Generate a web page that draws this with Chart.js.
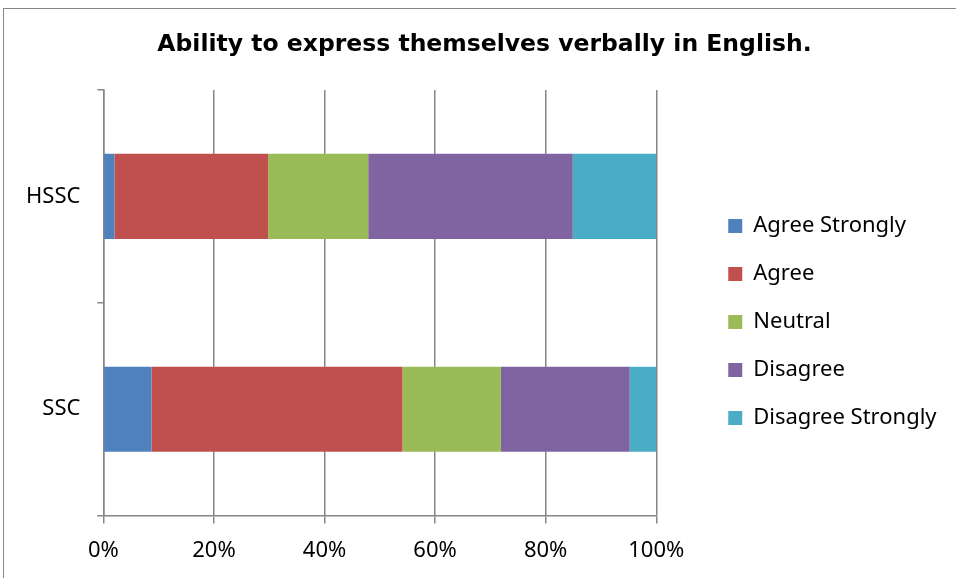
<!DOCTYPE html>
<html>
<head>
<meta charset="utf-8">
<script src="https://cdn.jsdelivr.net/npm/chart.js@4/dist/chart.umd.min.js"></script>
<style>
  html, body { margin: 0; padding: 0; background: #fff; }
  #frame { position: absolute; left: 3px; top: 8px; width: 1000px; height: 620px; border: 1px solid #868686; }
  #wrap { position: absolute; left: 0; top: 0; width: 956px; height: 578px; }
</style>
</head>
<body>
<div id="frame"></div>
<div id="wrap"><canvas id="chart"></canvas></div>
<script>
const title = 'Ability to express themselves verbally in English.';
const levels = ['HSSC', 'SSC'];
const seriesNames = ['Agree Strongly', 'Agree', 'Neutral', 'Disagree', 'Disagree Strongly'];
const agreeStrongly = [2, 8.7];
const agree = [27.8, 45.4];
const neutral = [18.1, 17.8];
const disagree = [37, 23.3];
const disagreeStrongly = [15.1, 4.8];
const xTicks = [0, 20, 40, 60, 80, 100];

const colors = ['#4F81BD', '#C0504D', '#9BBB59', '#8064A2', '#4BACC6'];
const values = [agreeStrongly, agree, neutral, disagree, disagreeStrongly];

const gridColor = '#868686';
const labelFont = { family: "'Noto Sans', 'Open Sans', sans-serif", size: 22 };

// push the legend away from the plot and centre the title on the whole frame
const legendGap = {
  id: 'legendGap',
  afterLayout(chart) {
    const lg = chart.legend;
    const w = lg.right - lg.left;
    lg.left = chart.chartArea.right + 46;
    lg.right = lg.left + w + 20;
    lg.top += 33;
    lg.bottom += 33;
    const tb = chart.titleBlock;
    tb.left += 44;
    tb.right += 44;
  },
};

new Chart(document.getElementById('chart'), {
  type: 'bar',
  data: {
    labels: levels,
    datasets: seriesNames.map((name, i) => ({
      label: name,
      data: values[i],
      backgroundColor: colors[i],
      borderWidth: 0,
      barPercentage: 0.4,
      categoryPercentage: 1,
    })),
  },
  options: {
    indexAxis: 'y',
    responsive: true,
    maintainAspectRatio: false,
    animation: false,
    layout: {
      padding: { left: 9, right: 84, top: 0, bottom: 0 },
    },
    plugins: {
      title: {
        display: true,
        text: title,
        color: '#000',
        font: { family: "'DejaVu Sans', Verdana, sans-serif", size: 23.5, weight: 'bold' },
        padding: { top: 30.4, bottom: 31.4 },
      },
      legend: {
        position: 'right',
        labels: {
          color: '#000',
          font: labelFont,
          boxWidth: 14,
          boxHeight: 14,
          padding: 26,
        },
      },
      tooltip: { enabled: false },
    },
    scales: {
      x: {
        stacked: true,
        min: 0,
        max: 100,
        afterBuildTicks(scale) {
          scale.ticks = xTicks.map((v) => ({ value: v }));
        },
        ticks: {
          color: '#000',
          font: labelFont,
          padding: 14,
          callback: (v) => v + '%',
        },
        grid: {
          color: gridColor,
          lineWidth: 1.5,
          tickLength: 8,
        },
        border: { color: gridColor, width: 1.5 },
      },
      y: {
        stacked: true,
        offset: true,
        ticks: {
          color: '#000',
          font: labelFont,
          padding: 17,
        },
        grid: {
          offset: true,
          drawOnChartArea: false,
          color: gridColor,
          lineWidth: 1.5,
          tickLength: 6,
        },
        border: { color: gridColor, width: 1.5 },
      },
    },
  },
  plugins: [legendGap],
});
</script>
</body>
</html>
